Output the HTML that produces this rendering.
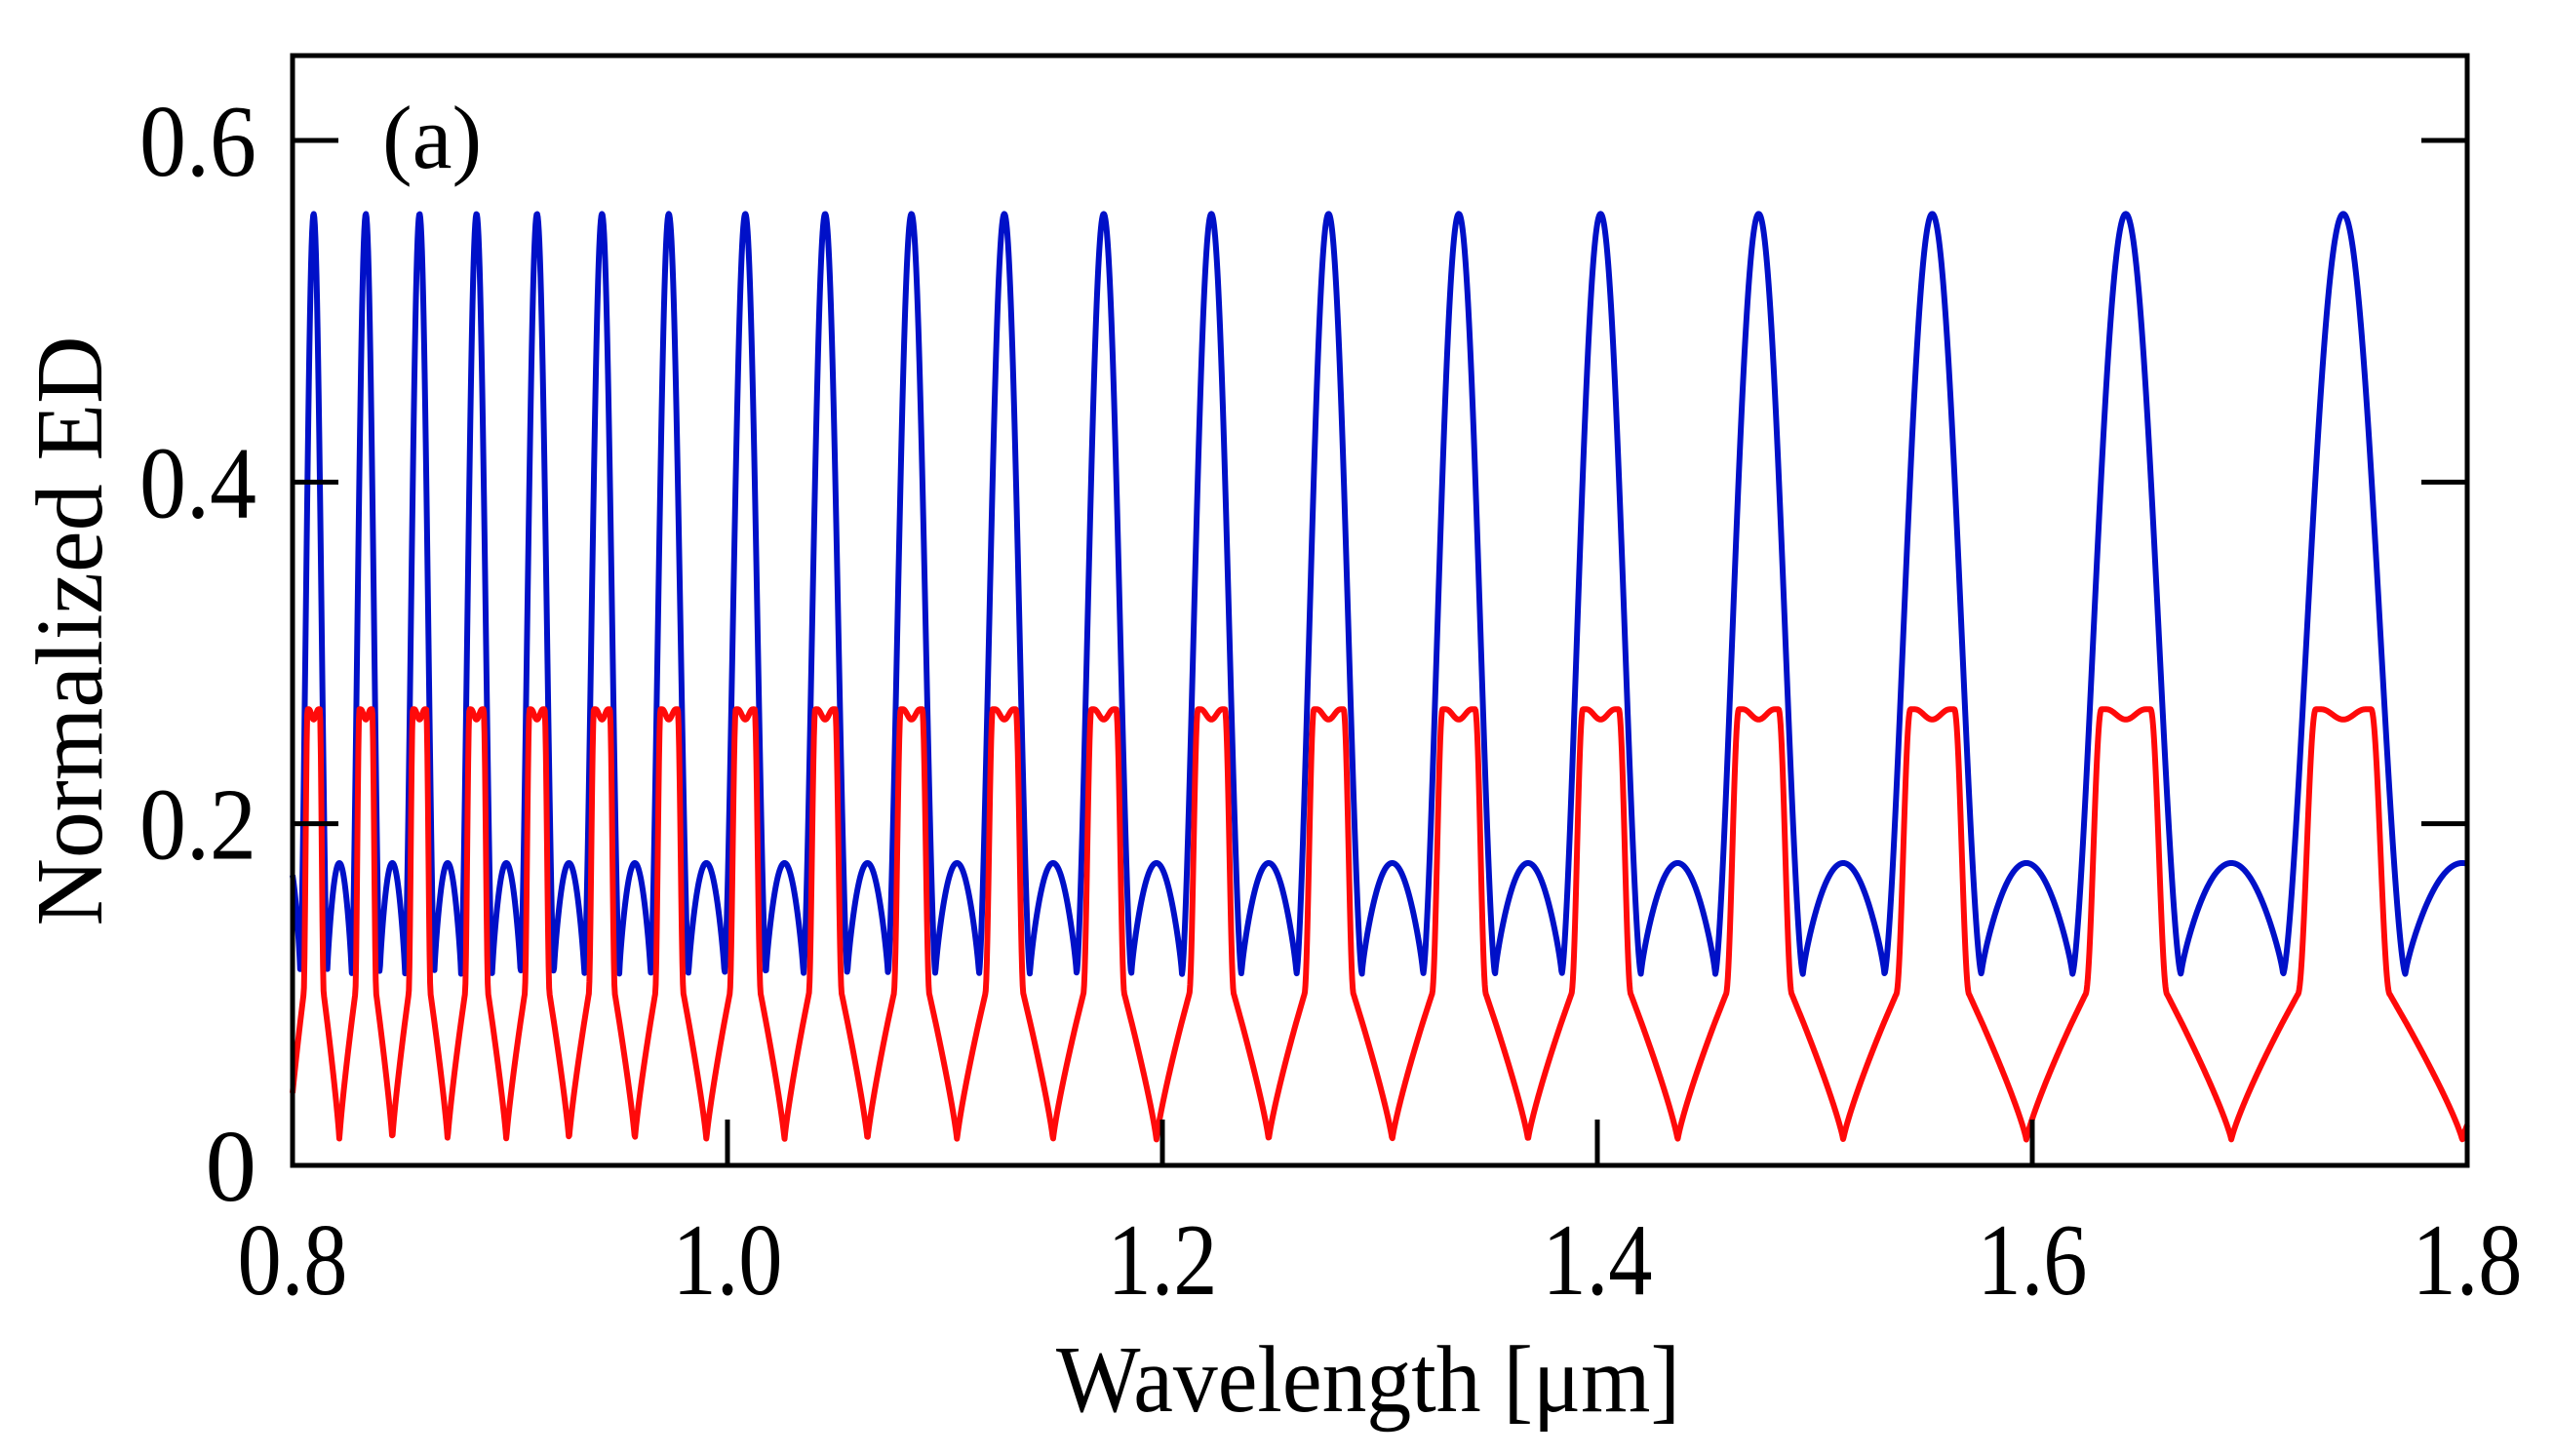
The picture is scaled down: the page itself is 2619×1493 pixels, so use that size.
<!DOCTYPE html>
<html><head><meta charset="utf-8"><style>
html,body{margin:0;padding:0;background:#fff;}
svg{display:block;font-family:"Liberation Serif",serif;}
</style></head><body>
<svg id="chart" width="2619" height="1493" viewBox="0 0 2619 1493" xmlns="http://www.w3.org/2000/svg">
<rect x="0" y="0" width="2619" height="1493" fill="#fff"/>
<g id="series"></g>
<g id="axes"></g>
<text x="392" y="172" font-size="92">(a)</text>
<text x="1403" y="1447" font-size="98" text-anchor="middle" textLength="640" lengthAdjust="spacingAndGlyphs">Wavelength [μm]</text>
<text transform="translate(104,647) rotate(-90)" font-size="98" text-anchor="middle" textLength="605" lengthAdjust="spacingAndGlyphs">Normalized ED</text>
</svg>
<script>
const peakWavelengths = [0.8097,0.8337,0.8584,0.8846,0.9124,0.9423,0.973,1.0082,1.0449,1.0846,1.1273,1.173,1.2225,1.2764,1.3363,1.4015,1.4742,1.554,1.643,1.743];
const bluePeak = 0.557, blueMin = 0.112, blueBump = 0.177;
const redTop = 0.267, redDip = 0.261, redShoulder = 0.1, redKnee = 0.083, redMin = 0.015;
const xTicks = [0.8,1.0,1.2,1.4,1.6,1.8];
const xTickLabels = ["0.8","1.0","1.2","1.4","1.6","1.8"];
const yTicks = [0,0.2,0.4,0.6];
const yTickLabels = ["0","0.2","0.4","0.6"];

const L=300,R=2530,T=57,B=1195;
const X0=0.8,X1=1.8,Y0=0,Y1=0.6;
const yOf06=144;
function xs(v){return L+(v-X0)/(X1-X0)*(R-L);}
function ys(v){return B-(v-Y0)/(Y1-Y0)*(B-yOf06);}
const NS="http://www.w3.org/2000/svg";
function mk(tag,attrs,parent){const e=document.createElementNS(NS,tag);for(const k in attrs)e.setAttribute(k,attrs[k]);parent.appendChild(e);return e;}

const ks=peakWavelengths.map(l=>1/l);
function phase(lam){
  const k=1/lam;
  const n=ks.length;
  if(k>=ks[0]){const p=ks[0]-ks[1];return -(k-ks[0])/p;}
  if(k<=ks[n-1]){const p=ks[n-2]-ks[n-1];return (ks[n-1]-k)/p;}
  for(let i=0;i<n-1;i++){if(k<=ks[i]&&k>=ks[i+1]){return (ks[i]-k)/(ks[i]-ks[i+1]);}}
  return 0;
}
function blue(f){
  const a=Math.abs(f), w=0.265;
  if(a<w){return blueMin+(bluePeak-blueMin)*Math.pow(Math.cos(Math.PI/2*a/w),1.5);}
  const t=(a-w)/(0.5-w);
  return blueMin+(blueBump-blueMin)*Math.pow(Math.sin(Math.PI/2*t),0.8);
}
function red(f){
  const a=Math.abs(f);
  let plate;
  if(a<0.12)plate=1;else if(a<0.2)plate=0.5*(1+Math.cos(Math.PI*(a-0.12)/0.08));else plate=0;
  let base;
  if(a<0.2)base=redShoulder;
  else if(a<0.27)base=redShoulder-(redShoulder-redKnee)*(a-0.2)/0.07;
  else {const s=(0.5-a)/0.23;base=redMin+(redKnee-redMin)*Math.pow(s,0.85);}
  let v=base+(redTop-base)*plate;
  if(a<0.095){v-=(redTop-redDip)*Math.pow(Math.cos(Math.PI*a/0.19),2);}
  return v;
}
function wrap(f){return f-Math.round(f);}

const sg=document.getElementById('series');
const N=4000;
let pb=[],pr=[];
for(let i=0;i<=N;i++){
  const lam=X0+(X1-X0)*i/N;
  const f=wrap(phase(lam));
  pb.push(xs(lam).toFixed(2)+","+ys(blue(f)).toFixed(2));
  pr.push(xs(lam).toFixed(2)+","+ys(red(f)).toFixed(2));
}
const lb=mk('polyline',{points:pb.join(' '),fill:'none',stroke:'#0010c8','stroke-width':6,'stroke-linejoin':'round'},sg);


const lr=mk('polyline',{points:pr.join(' '),fill:'none',stroke:'#ff0a0a','stroke-width':6,'stroke-linejoin':'round'},sg);



const ag=document.getElementById('axes');
const fr=mk('rect',{x:L,y:T,width:R-L,height:B-T,fill:'none',stroke:'#000','stroke-width':5},ag);


const TL=47;
xTicks.forEach((v,i)=>{
  const x=xs(v);
  const t1=mk('line',{x1:x,y1:B,x2:x,y2:B-TL,stroke:'#000','stroke-width':5},ag);
  
  
  const lab=mk('text',{x:x,y:1327,'font-size':105,'text-anchor':'middle',textLength:113,lengthAdjust:'spacingAndGlyphs'},ag);
  lab.textContent=xTickLabels[i];
  
  
});
yTicks.forEach((v,i)=>{
  const y=ys(v);
  const t1=mk('line',{x1:L,y1:y,x2:L+TL,y2:y,stroke:'#000','stroke-width':5},ag);
  
  
  const t2=mk('line',{x1:R,y1:y,x2:R-TL,y2:y,stroke:'#000','stroke-width':5},ag);
  
  
  const s=yTickLabels[i];
  const attrs={x:263,y:y+36,'font-size':105,'text-anchor':'end'};
  if(s.length>1){attrs.textLength=120;attrs.lengthAdjust='spacingAndGlyphs';}
  const lab=mk('text',attrs,ag);
  lab.textContent=s;
  
  
});
</script>
</body></html>
